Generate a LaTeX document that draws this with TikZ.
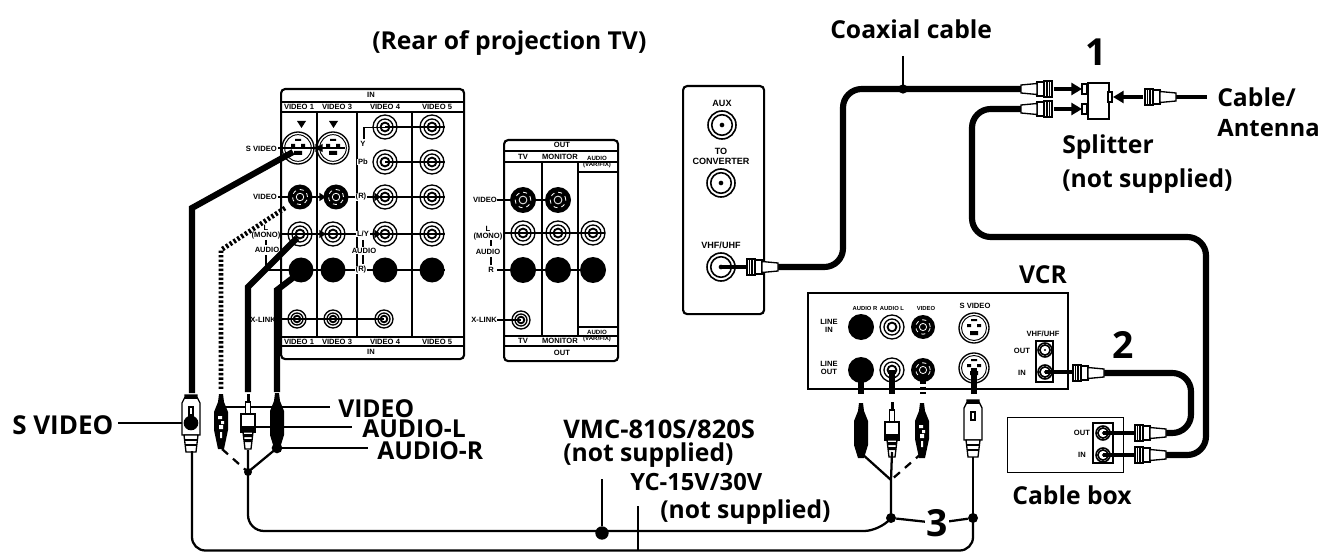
\documentclass[tikz,border=0pt]{standalone}
\usepackage{fontspec}
\setmainfont{Open Sans}
\newfontfamily\smallfont{Liberation Sans}
\usetikzlibrary{arrows.meta}
\tikzset{
 big/.style={font=\bfseries\fontsize{18.5}{22}\selectfont,inner sep=0pt,anchor=west,text=black},
 num/.style={font=\bfseries\fontsize{28}{30}\selectfont,inner sep=0pt},
 tiny/.style={font=\smallfont\bfseries\fontsize{5.7}{6}\selectfont,inner sep=0pt,align=center},
 narrow/.style={font=\smallfont\bfseries\fontsize{4.4}{6}\selectfont,inner sep=0pt,align=center},
 mid/.style={font=\smallfont\bfseries\fontsize{6.8}{7.5}\selectfont,inner sep=0pt,align=center},
 panel/.style={draw,line width=1.6pt,rounded corners=3pt,fill=white},
 rule/.style={line width=1.2pt},
 coax/.style={line width=4.6pt,rounded corners=14pt},
 thick cable/.style={line width=4.6pt},
 thin cable/.style={line width=1.7pt},
 lead/.style={line width=1.8pt},
 tip/.style={line width=2.8pt,-{Triangle[length=8pt,width=9pt]}},
 small tip/.style={line width=1.8pt,-{Triangle[length=5pt,width=6pt]}},
 dotfill/.style={circle,fill=black,inner sep=0pt,minimum size=10pt},
}
% jacks
\newcommand{\rca}[3]{\node[circle,draw,line width=1pt,minimum size=#3*1.5pt,inner sep=0pt] (#1o) at (#2) {};
 \node[circle,draw,line width=1pt,minimum size=#3*1.0pt,inner sep=0pt] at (#2) {};
 \node[circle,draw,line width=1.4pt,minimum size=#3*0.55pt,inner sep=0pt] at (#2) {};}
\newcommand{\blk}[3]{\node[circle,fill=black,minimum size=#3*1.5pt,inner sep=0pt] (#1o) at (#2) {};}
\newcommand{\vid}[3]{\node[circle,fill=black,minimum size=#3*1.5pt,inner sep=0pt] (#1o) at (#2) {};
 \node[circle,draw=white,dashed,line width=.6pt,minimum size=#3*.9pt,inner sep=0pt] at (#2) {};
 \node[circle,draw=white,line width=.6pt,minimum size=#3*.45pt,inner sep=0pt] at (#2) {};}
\newcommand{\svid}[3]{\node[circle,draw,line width=1pt,minimum size=#3*1.5pt,inner sep=0pt] (#1o) at (#2) {};
 \node[circle,draw,line width=.7pt,minimum size=#3*1.25pt,inner sep=0pt] at (#2) {};
 \fill[shift={(#2)}] (-7,-4) rectangle (-3,-1) (3,-4) rectangle (7,-1) (-4,3) rectangle (4,7) (-3,-9) rectangle (3,-7);}
\newcommand{\coaxj}[3]{\node[circle,draw,line width=1.2pt,minimum size=#3*1.5pt,inner sep=0pt] (#1o) at (#2) {};
 \node[circle,draw,line width=1.2pt,minimum size=#3*1.1pt,inner sep=0pt] at (#2) {};
 \node[circle,fill=black,minimum size=#3*.25pt,inner sep=0pt] at (#2) {};}
% F plug: head at #1, running to the right, rotated by #2
\newcommand{\fplug}[2]{\begin{scope}[shift={(#1)},rotate=#2,line width=1pt]
 \draw[fill=white] (0,-8) rectangle (8,8);
 \draw[fill=white] (8,-7) -- (15,-7) -- (15,7) -- (8,7) -- cycle;
 \draw[fill=white] (15,-5.5) -- (31,-4) -- (31,4) -- (15,5.5) -- cycle;
 \draw (2.5,-8) -- (2.5,8) (5,-8) -- (5,8);
 \end{scope}}
\newcommand{\rcawhite}[1]{\begin{scope}[shift={(#1)},line width=1pt]
 \fill (-1.5,0) rectangle (1.5,10);
 \draw[fill=white] (-2.5,8) rectangle (2.5,20);
 \draw[fill=white] (-7,20) rectangle (7,38);
 \fill (-7,32) rectangle (7,38);
 \draw[fill=white] (-5,38) -- (5,38) -- (3,55) -- (-3,55) -- cycle;
 \fill (-4,40) rectangle (4,43) (-4,45) rectangle (4,48);
 \end{scope}}
\newcommand{\rcablack}[1]{\begin{scope}[shift={(#1)}]
 \fill (-2,0) -- (2,0) -- (3,8) -- (7,18) -- (7,42) -- (3,55) -- (-3,55) -- (-7,42) -- (-7,18) -- (-3,8) -- cycle;
 \end{scope}}
\newcommand{\rcayellow}[1]{\begin{scope}[shift={(#1)}]
 \fill (-2,0) -- (2,0) -- (3,8) -- (7,18) -- (7,36) -- (3,55) -- (-3,55) -- (-7,36) -- (-7,18) -- (-3,8) -- cycle;
 \fill[white] (-3,22) rectangle (1,25) (0,27) rectangle (3,30) (-2,31) rectangle (2,35) (-1,38) rectangle (1,44);
 \end{scope}}
\newcommand{\splug}[1]{\begin{scope}[shift={(#1)},line width=1pt]
 \draw[fill=white] (-6,0) -- (-6,-2) -- (6,-2) -- (6,0) -- (9,6) -- (9,38) -- (-9,38) -- (-9,6) -- cycle;
 \fill (-6,-2) rectangle (6,2);
 \draw[fill=white] (-2,10) -- (2,10) -- (2,18) -- (-2,18) -- cycle;
 \draw[fill=white] (-7,38) -- (7,38) -- (5,55) -- (-5,55) -- cycle;
 \draw (-6,43) -- (6,43) (-6,48) -- (6,48);
 \end{scope}}
\begin{document}
\begin{tikzpicture}[x=0.75pt,y=-0.75pt]
\useasboundingbox (0,0) rectangle (1320,552);

%% ---------- IN panel
\node[panel,minimum width=137.25pt,minimum height=202.5pt,anchor=north west,inner sep=0pt] (inp) at (280,88) {};
\draw[rule] (280,102) -- (463,102) (280,112) -- (463,112);
\draw[rule] (280,337) -- (463,337) (280,346) -- (463,346);
\draw[rule] (317,112) -- (317,337) (357,112) -- (357,337) (412,112) -- (412,337);
\node[tiny] (ina) at (371,95) {IN};
\node[tiny] (inb) at (371,352) {IN};
\foreach \xx/\tt/\nn in {299/VIDEO 1/a,337/VIDEO 3/b,385/VIDEO 4/c,437/VIDEO 5/d}{
 \node[tiny] (ht\nn) at (\xx,107) {\tt};
 \node[tiny] (hb\nn) at (\xx,342) {\tt};}
\fill (297,121) -- (306,121) -- (301.5,128) -- cycle;
\fill (329,121) -- (338,121) -- (333.5,128) -- cycle;
% row traces
\draw[rule] (278,148) -- (345,148);
\draw[rule] (278,197) -- (445,197);
\draw[rule] (282,234) -- (445,234);
\draw[rule] (271,270) -- (445,270);
\draw[rule] (278,319) -- (384,319);
\draw[rule] (385,127) -- (445,127) (385,162) -- (445,162);
\draw[rule] (364,139) -- (364,127.5) -- (385,127.5);
\svid{s1}{298,148}{16}
\svid{s2}{333,148}{16}
\rca{y1}{385,127}{12} \rca{y2}{432,127}{12}
\rca{p1}{385,162}{12} \rca{p2}{432,162}{12}
\vid{v1}{300,197}{12.5} \vid{v2}{336,197}{12.5}
\rca{v3}{385,197}{12} \rca{v4}{432,197}{12}
\rca{l1}{300,234}{12} \rca{l2}{333,234}{12}
\rca{l3}{385,234}{12} \rca{l4}{432,234}{12}
\blk{r1}{301,270}{12.5} \blk{r2}{333,270}{12.5}
\blk{r3}{385,270}{12.5} \blk{r4}{432,270}{12.5}
\rca{x1}{297,319}{9} \rca{x2}{333,319}{9} \rca{x3}{384,319}{9}
\node[tiny,anchor=east] (t1) at (277,149) {S VIDEO};
\node[tiny,anchor=east] (t2) at (277,197) {VIDEO};
\node[tiny] (t3) at (266,232) {L\\[-.5pt](MONO)};
\node[tiny] (t4) at (267,250) {AUDIO};
\node[tiny,anchor=east] (t6) at (276,320) {X-LINK};
\draw[rule] (266,240) -- (266,245) (266,255) -- (266,270) -- (271,270);
\node[tiny,fill=white,inner sep=.5pt] (t7) at (363,144) {Y};
\node[tiny,fill=white,inner sep=.5pt] (t8) at (363,162) {Pb};
\node[tiny,fill=white,inner sep=.5pt] (t9) at (361,197) {(R)};
\node[tiny,fill=white,inner sep=.5pt] (t10) at (363,234) {L/Y};
\node[tiny,fill=white,inner sep=.5pt] (t11) at (364,251) {AUDIO};
\node[tiny,fill=white,inner sep=.5pt] (t12) at (361,270) {(R)};
\draw[rule] (363,240) -- (363,247) (363,255) -- (363,264);
\draw[small tip] (305,148) -- (322,148);
\draw[small tip] (326,148) -- (316,148);
\draw[small tip] (370,197) -- (381,197);
\draw[small tip] (370,234) -- (381,234);
\draw[small tip] (312,197) -- (326,197);
\draw[small tip] (312,234) -- (326,234);

%% ---------- OUT panel
\node[panel,minimum width=85.5pt,minimum height=165.75pt,anchor=north west,inner sep=0pt] (outp) at (503,139) {};
\draw[rule] (503,151) -- (617,151) (503,162) -- (617,162);
\draw[rule] (503,336) -- (617,336) (503,346) -- (617,346);
\draw[rule] (542,162) -- (542,336) (578,162) -- (578,336);
\draw[rule] (578,172) -- (617,172) (578,327) -- (617,327);
\node[tiny] (oa) at (562,145) {OUT};
\node[tiny] (ob) at (562,353) {OUT};
\node[tiny] (oc) at (523,157) {TV};
\node[tiny] (od) at (560,157) {MONITOR};
\node[tiny,font=\smallfont\bfseries\fontsize{4.6}{4.8}\selectfont] (oe) at (597,162) {AUDIO\\(VAR/FIX)};
\node[tiny] (of) at (523,341) {TV};
\node[tiny] (og) at (560,341) {MONITOR};
\node[tiny,font=\smallfont\bfseries\fontsize{4.6}{4.8}\selectfont] (oh) at (597,336) {AUDIO\\(VAR/FIX)};
\draw[rule] (497,200) -- (570,200) (503,233) -- (605,233) (497,270) -- (605,270) (497,320) -- (521,320);
\vid{ov1}{523,200}{13} \vid{ov2}{558,200}{13}
\rca{ol1}{523,233}{12} \rca{ol2}{558,233}{12} \rca{ol3}{593,233}{12}
\blk{or1}{523,270}{13} \blk{or2}{558,270}{13} \blk{or3}{593,270}{13}
\rca{ox}{521,320}{9}
\node[tiny,anchor=east] (u1) at (497,200) {VIDEO};
\node[tiny] (u2) at (488,233) {L\\[-.5pt](MONO)};
\node[tiny] (u3) at (488,252) {AUDIO};
\node[tiny] (u4) at (491,270) {R};
\node[tiny,anchor=east] (u5) at (497,320) {X-LINK};
\draw[rule] (491,240) -- (491,246) (491,257) -- (491,265);

%% ---------- Antenna panel
\node[panel,minimum width=60.75pt,minimum height=171pt,anchor=north west,inner sep=0pt] (aux) at (682,85) {};
\node[mid] (auxt) at (722,103) {AUX};
\coaxj{auxj}{722,125}{14}
\node[mid] (cnvt) at (721,156) {TO\\CONVERTER};
\coaxj{cnvj}{721,183}{14}
\node[mid] (vhft) at (721,245) {VHF/UHF};
\coaxj{vhfj}{721,267}{14}

%% ---------- VCR
\node[draw,line width=1.4pt,fill=white,minimum width=195pt,minimum height=72pt,anchor=north west,inner sep=0pt] (vcr) at (807,292) {};
\node[font=\bfseries\fontsize{18.5}{22}\selectfont,inner sep=0pt] (vcrt) at (1043,275) {VCR};
\node[narrow] (c1) at (865,308) {AUDIO R};
\node[narrow] (c3) at (892,308) {AUDIO L};
\node[narrow] (c4) at (926,308) {VIDEO};
\node[tiny] (c5) at (975,306) {S VIDEO};
\node[tiny] (c6) at (829,326) {LINE\\IN};
\node[tiny] (c7) at (829,368) {LINE\\OUT};
\node[tiny] (c8) at (1043,334) {VHF/UHF};
\node[tiny] (c9) at (1022,351) {OUT};
\node[tiny] (c10) at (1022,373) {IN};
\blk{a1}{861,327}{13} \rca{a2}{892,327}{12} \vid{a3}{923,327}{12}
\svid{a4}{974,328}{15}
\blk{b1}{861,370}{13} \rca{b2}{892,370}{12} \vid{b3}{923,370}{12}
\svid{b4}{974,368}{15}
\draw[line width=1.1pt] (1036,341) rectangle (1053,382);
\coaxj{vo}{1045,350}{7}
\coaxj{vi}{1045,372}{7}

%% ---------- Cable box
\node[draw,line width=1pt,fill=white,minimum width=87pt,minimum height=41.25pt,anchor=north west,inner sep=0pt] (cbox) at (1007,417) {};
\draw[line width=1.1pt] (1093,423) rectangle (1113,463);
\coaxj{co}{1103,433}{7}
\coaxj{ci}{1103,455}{7}
\node[tiny] (c11) at (1082,433) {OUT};
\node[tiny] (c12) at (1082,455) {IN};
\node[big,anchor=center] (cbt) at (1072,495) {Cable box};

%% ---------- Splitter
\node[draw,line width=1.3pt,fill=white,minimum width=15.75pt,minimum height=27pt,anchor=north west,inner sep=0pt] (spl) at (1087,82) {};
\draw[line width=1pt,fill=white] (1087,84) rectangle (1082,94) (1087,104) rectangle (1082,114) (1108,92) rectangle (1112,102);
\node[num] (n1) at (1096,52) {1};
\node[big] (spt) at (1062,147) {Splitter};
\node[big] (spn) at (1062,181) {(not supplied)};
\node[big] (ca) at (1217,97) {Cable/};
\node[big,font=\bfseries\fontsize{17.9}{22}\selectfont] (an) at (1217,128) {Antenna};

%% ---------- Coax runs
\coordinate (c1a) at (772,267);
\coordinate (c1b) at (1026,89);
\draw[coax] (c1a) -- (843,267) -- (843,89) -- (c1b);
\coordinate (c2a) at (1026,109);
\coordinate (c2b) at (1160,455);
\draw[coax] (c2a) -- (972,109) -- (972,237) -- (1206,237) -- (1206,455) -- (c2b);
\coordinate (c3a) at (1098,373);
\coordinate (c3b) at (1160,433);
\draw[coax] (c3a) -- (1191,373) -- (1191,433) -- (c3b);
\coordinate (c4a) at (1170,97);
\coordinate (c4b) at (1207,97);
\draw[thick cable,line width=3.6pt] (c4a) -- (c4b);
\coordinate (cx1) at (903,56);
\coordinate (cx2) at (903,89);
\draw[lead] (cx1) -- (cx2);
\node[circle,fill=black,inner sep=0pt,minimum size=7pt] (cxd) at (cx2) {};
\node[big] (cxt) at (830,29) {Coaxial cable};

%% plugs on coax
\fplug{747,267}{0}
\fplug{1052,89}{180}
\fplug{1052,109}{180}
\fplug{1145,97}{0}
\fplug{1073,373}{0}
\fplug{1135,433}{0}
\fplug{1135,455}{0}
% arrows
\draw[line width=2.6pt] (vhfjo.center) -- (746,267);
\draw[tip] (1054,89) -- (1082,89);
\draw[tip] (1054,109) -- (1082,109);
\draw[tip] (1143,97) -- (1113,97);
\draw[line width=2.6pt] (1045,372) -- (1072,372);
\draw[line width=2.6pt] (1103,433) -- (1134,433);
\draw[line width=2.6pt] (1103,455) -- (1134,455);

%% ---------- TV cables
\coordinate (s0) at (192,393);
\draw[thick cable,line join=miter] (293,152) -- (192,208) -- (s0);
\coordinate (d0) at (221,390);
\draw[thick cable,line width=3.6pt,dash pattern=on 1.8pt off 1.6pt] (285,208) -- (221,250) -- (d0);
\coordinate (w0) at (248,392);
\draw[thick cable] (297,238) -- (248,287) -- (w0);
\coordinate (k0) at (277,392);
\draw[thick cable] (r1o.center) ++(-7,7) -- (277,290) -- (k0);

%% label leads first
\coordinate (lv) at (330,407);
\coordinate (la) at (352,427);
\coordinate (lr) at (368,448);
\coordinate (ls) at (118,423);
\draw[lead,line width=2pt] (225,407) -- (lv);
\draw[lead] (253,427) -- (la);
\draw[lead] (277,448) -- (lr);
\draw[lead,line width=2pt] (ls) -- (191,423);

%% plugs left
\splug{191,397}
\rcayellow{221,394}
\rcawhite{248,394}
\rcablack{277,393}
\fill (277,448) circle (4pt);
\node[circle,fill=black,inner sep=0pt,minimum size=11pt] (sd) at (191,423) {};
\node[big] (tv) at (338,409) {VIDEO};
\node[big] (ta) at (362,429) {AUDIO-L};
\node[big] (tr) at (377,451) {AUDIO-R};
\node[big,font=\bfseries\fontsize{19.5}{22}\selectfont] (ts) at (12,425) {S VIDEO};

%% y-junction left
\coordinate (jl) at (248,472);
\draw[thin cable] (277,448) -- (jl);
\draw[thin cable,dash pattern=on 6pt off 5pt] (222,449) -- (jl);
\fill (jl) circle (3pt);

%% plugs right
\coordinate (jr) at (891,480);
\coordinate (j3) at (891,518);
\coordinate (j4) at (973,518);
\draw[thick cable] (b1o.center) -- (861,394);
\draw[thick cable] (b2o.center) -- (892,394);
\draw[thick cable,dash pattern=on 2pt off 2pt] (923,376) -- (923,394);
\draw[thick cable] (b4o.center) -- (974,394);
\rcablack{861,403}
\rcawhite{892,402}
\rcayellow{922,403}
\splug{973,402}
\draw[thin cable] (861,453) -- (jr);
\draw[thin cable,dash pattern=on 6pt off 5pt] (922,453) -- (jr);
\draw[thin cable] (892,452) -- (jr) -- (j3);
\draw[thin cable] (973,457) -- (j4);
\node[circle,fill=black,inner sep=0pt,minimum size=7.5pt] (d3) at (j3) {};
\node[circle,fill=black,inner sep=0pt,minimum size=7.5pt] (d4) at (j4) {};
\node[num] (n3) at (937,523) {3};
\draw[thin cable] (d3) -- (n3) -- (d4);
\node[num,fill=white,inner sep=1pt] (n3b) at (937,523) {3};
\node[num] (n2) at (1123,345) {2};

%% bottom runs
\coordinate (b1) at (248,450);
\draw[thin cable,rounded corners=12pt] (b1) -- (248,531) -- (880,531) -- (j3);
\coordinate (b2) at (192,451);
\draw[thin cable,rounded corners=10pt] (b2) -- (192,550.5) -- (973,550.5) -- (j4);
\node[dotfill] (md) at (602,533) {};
\coordinate (vm) at (602,479);
\coordinate (yc) at (638,506);
\coordinate (yd) at (638,551);
\draw[lead] (vm) -- (md);
\draw[lead] (yc) -- (yd);
\node[big,font=\bfseries\fontsize{19.2}{22}\selectfont] (vmct) at (563,429) {VMC-810S/820S};
\node[big] (vmcn) at (563,455) {(not supplied)};
\node[big,font=\bfseries\fontsize{17.8}{22}\selectfont] (yct) at (630,482) {YC-15V/30V};
\node[big] (ycn) at (660,512) {(not supplied)};
\node[big] (rear) at (372,43) {(Rear of projection TV)};
\end{tikzpicture}
\end{document}
